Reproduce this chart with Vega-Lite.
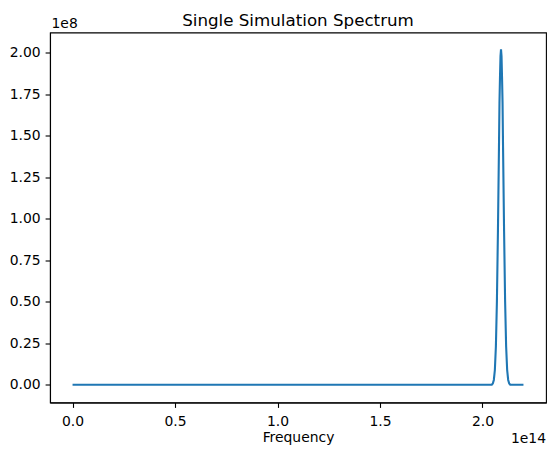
{
  "$schema": "https://vega.github.io/schema/vega-lite/v6.json",
  "autosize": "none",
  "width": 496,
  "height": 370,
  "padding": {"left": 50, "top": 32.5, "right": 10, "bottom": 52},
  "background": "white",
  "title": {"text": "Single Simulation Spectrum", "font": "DejaVu Sans", "fontSize": 16.7, "fontWeight": "normal", "color": "black", "offset": 7, "anchor": "middle", "dy": 20},
  "config": {
    "view": {"stroke": "black", "strokeWidth": 1.1},
    "axis": {"grid": false, "domainColor": "black", "domainWidth": 1.1, "tickColor": "black", "tickWidth": 1.1, "tickSize": 4.9, "labelFont": "DejaVu Sans", "labelFontSize": 13.9, "labelColor": "black", "labelPadding": 4.9, "titleFont": "DejaVu Sans", "titleFontSize": 13.9, "titleFontWeight": "normal", "titleColor": "black"}
  },
  "layer": [
    {
      "data": {"values": [
        {"frequency": 0, "power": 0},
        {"frequency": 50000000000000, "power": 0},
        {"frequency": 100000000000000, "power": 0},
        {"frequency": 150000000000000, "power": 0},
        {"frequency": 200000000000000, "power": 0},
        {"frequency": 203000000000000, "power": 0},
        {"frequency": 204550000000000, "power": 60000},
        {"frequency": 205050000000000, "power": 780000},
        {"frequency": 205550000000000, "power": 2870000},
        {"frequency": 206050000000000, "power": 8850000},
        {"frequency": 206550000000000, "power": 23000000},
        {"frequency": 207050000000000, "power": 50300000},
        {"frequency": 207550000000000, "power": 92400000},
        {"frequency": 208050000000000, "power": 142700000},
        {"frequency": 208300000000000, "power": 170000000},
        {"frequency": 208550000000000, "power": 185200000},
        {"frequency": 208800000000000, "power": 198000000},
        {"frequency": 209050000000000, "power": 202000000},
        {"frequency": 209300000000000, "power": 198000000},
        {"frequency": 209550000000000, "power": 185200000},
        {"frequency": 209800000000000, "power": 170000000},
        {"frequency": 210050000000000, "power": 142700000},
        {"frequency": 210550000000000, "power": 92400000},
        {"frequency": 211050000000000, "power": 50300000},
        {"frequency": 211550000000000, "power": 23000000},
        {"frequency": 212050000000000, "power": 8850000},
        {"frequency": 212550000000000, "power": 2870000},
        {"frequency": 213050000000000, "power": 780000},
        {"frequency": 213550000000000, "power": 60000},
        {"frequency": 215000000000000, "power": 0},
        {"frequency": 220000000000000, "power": 0}
      ]},
      "mark": {"type": "line", "color": "#1f77b4", "strokeWidth": 2.1, "clip": true},
      "encoding": {
        "x": {"field": "frequency", "type": "quantitative", "scale": {"domain": [-11000000000000, 231000000000000], "nice": false, "zero": false},
          "axis": {"values": [0, 50000000000000, 100000000000000, 150000000000000, 200000000000000], "labelExpr": "format(datum.value/1e14, '.1f')", "labelPadding": 7, "title": "Frequency", "titlePadding": 2}},
        "y": {"field": "power", "type": "quantitative", "scale": {"domain": [-10700000, 212200000], "nice": false, "zero": false},
          "axis": {"values": [0, 25000000, 50000000, 75000000, 100000000, 125000000, 150000000, 175000000, 200000000], "labelExpr": "format(datum.value/1e8, '.2f')", "title": "1e8", "titleAngle": 0, "titleAnchor": "end", "titleAlign": "left", "titleBaseline": "alphabetic", "titleX": 1, "titleY": -5}}
      }
    },
    {
      "data": {"values": [{"label": "1e14"}]},
      "mark": {"type": "text", "font": "DejaVu Sans", "fontSize": 13.9, "fontWeight": "normal", "color": "black", "align": "right", "baseline": "alphabetic", "dy": 40},
      "encoding": {
        "text": {"field": "label"},
        "x": {"datum": 231000000000000, "type": "quantitative"},
        "y": {"datum": -10700000, "type": "quantitative"}
      }
    }
  ]
}
